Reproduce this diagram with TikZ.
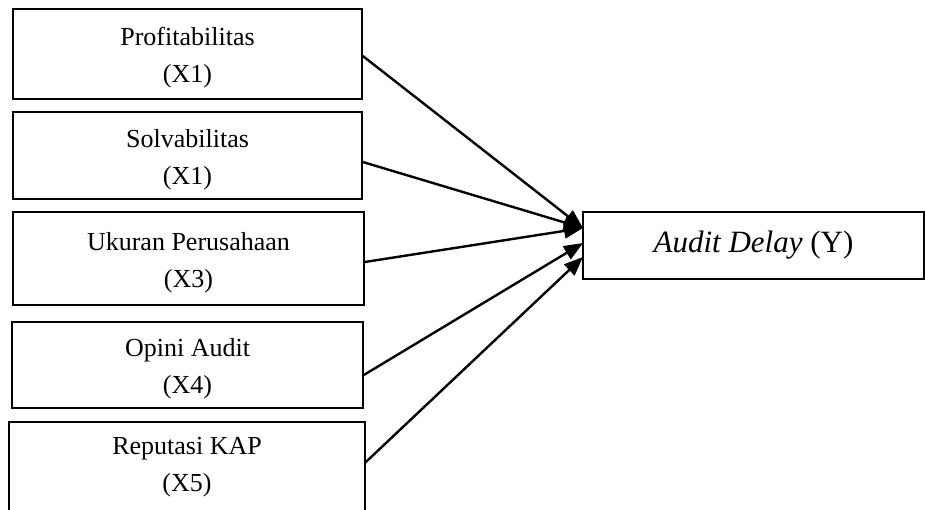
\documentclass[tikz,border=0pt]{standalone}
\usepackage{fontspec}
\setmainfont{Liberation Serif}
\usetikzlibrary{arrows.meta}
\newcommand\tstrut{\rule{0pt}{26pt}}
\begin{document}
\begin{tikzpicture}[x=1pt,y=-1pt,
  boxline/.style={line width=1.6pt},
  varbox/.style={draw,boxline,rectangle,inner sep=0pt,align=center,
    font=\fontsize{26}{37}\selectfont},
  conn/.style={line width=2.4pt,-{Triangle[length=19pt,width=15pt]}}]
\useasboundingbox (0,0) rectangle (925,509);
\clip (0,0) rectangle (925,509);
\node[varbox,minimum width=349pt,minimum height=90pt] (b1) at (187.5,54) {\tstrut Profitabilitas\\(X1)};
\node[varbox,minimum width=349pt,minimum height=87pt] (b2) at (187.5,155.5) {\tstrut Solvabilitas\\(X1)};
\node[varbox,minimum width=351pt,minimum height=93pt] (b3) at (188.5,258.5) {\tstrut Ukuran Perusahaan\\(X3)};
\node[varbox,minimum width=351pt,minimum height=86pt] (b4) at (187.5,365) {\tstrut Opini Audit\\(X4)};
\node[varbox,draw=none,minimum width=354pt,minimum height=80pt] (b5) at (187,463) {\tstrut Reputasi KAP\\(X5)};
\draw[boxline] ([yshift=-20pt]b5.south west) -- (b5.north west) -- (b5.north east) -- ([yshift=-20pt]b5.south east);
\node[varbox,minimum width=341pt,minimum height=67pt,font=\fontsize{31}{36}\selectfont] (y) at (753.5,245.5) {\textit{Audit Delay} (Y)};
\coordinate (t1) at (583,228);
\coordinate (t2) at (583,243);
\coordinate (t3) at (583,257);
\draw[conn] ([yshift=-2pt]b1.east) -- (t1);
\draw[conn] ([yshift=-6.5pt]b2.east) -- (t1);
\draw[conn] ([yshift=-3.5pt]b3.east) -- (t1);
\draw[conn] ([yshift=-10pt]b4.east) -- (t2);
\draw[conn] ([yshift=0pt]b5.east) -- (t3);
\end{tikzpicture}
\end{document}
